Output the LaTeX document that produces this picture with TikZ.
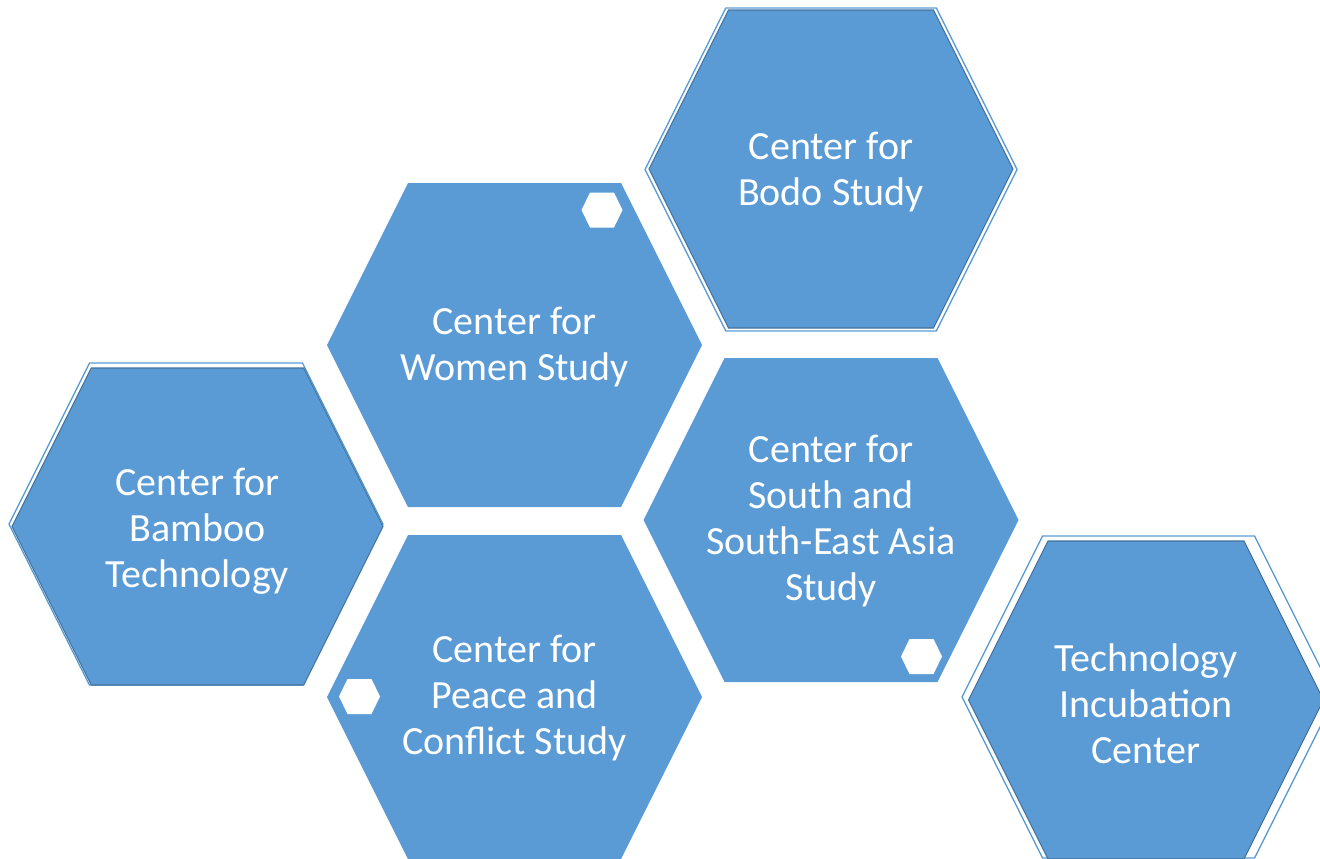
\documentclass[tikz,border=0pt]{standalone}
\usepackage{fontspec}
\setmainfont{Carlito}
\usepackage{tikz}
\usetikzlibrary{positioning}

\definecolor{cellblue}{HTML}{5B9BD5}
\definecolor{celledge}{HTML}{41719C}

\tikzset{
    cell/.style         = {fill = cellblue},
    framed cell/.style  = {fill = cellblue, draw = celledge, line width = .8pt},
    rim/.style          = {draw = cellblue, line width = 1pt},
    white mark/.style   = {fill = white},
    cell text/.style    = {text = white, align = center, inner sep = 0pt,
                           font = \fontsize{30}{34.5}\selectfont}
}

\begin{document}
\begin{tikzpicture}[x = .75pt, y = -.75pt]
                \clip (0,0) rectangle (1320,858);

                % Draw the outer rims of the framed cells:
                \foreach \cx/\cy/\w/\h in {831/169.5/372/323, 196/524/374/322, 1148.5/697/373/322}
                    \draw [rim] (\cx-\w/2,\cy) -- ++(\h/4,-\h/2) -- ++(\w-\h/2,0) -- ++(\h/4,\h/2)
                        -- ++(-\h/4,\h/2) -- ++(-\w+\h/2,0) -- cycle;

                % Draw the framed cells:
                \foreach \cx/\cy/\w/\h in {831/169/364/318, 197.5/526.5/371/317, 1146/700/355/318}
                    \draw [framed cell] (\cx-\w/2,\cy) -- ++(\h/4,-\h/2) -- ++(\w-\h/2,0) -- ++(\h/4,\h/2)
                        -- ++(-\h/4,\h/2) -- ++(-\w+\h/2,0) -- cycle;

                % Draw the plain cells:
                \foreach \cx/\cy in {514.5/345, 514.5/697, 831/520}
                    \fill [cell] (\cx-187.5,\cy) -- ++(81,-162) -- ++(213,0) -- ++(81,162)
                        -- ++(-81,162) -- ++(-213,0) -- cycle;

                % Draw the small white marks:
                \foreach \cx/\cy in {602/210, 359.5/696.5, 921.5/656.5}
                    \fill [white mark] (\cx-20.5,\cy) -- ++(8.5,-17.5) -- ++(24,0) -- ++(8.5,17.5)
                        -- ++(-8.5,17.5) -- ++(-24,0) -- cycle;

                % Draw the labels:
                \node [cell text] (bodo)       at (831,172)   {Center for\\Bodo Study};
                \node [cell text] (women)      at (514.5,347) {Center for\\Women Study};
                \node [cell text] (bamboo)     at (197.5,531) {Center for\\Bamboo\\Technology};
                \node [cell text] (peace)      at (514.5,698) {Center for\\Peace and\\Conflict Study};
                \node [cell text] (southasia)  at (831,521)   {Center for\\South and\\South-East Asia\\Study};
                \node [cell text] (incubation) at (1146,704)  {Technology\\Incubation\\Center};
            \end{tikzpicture}
\end{document}
